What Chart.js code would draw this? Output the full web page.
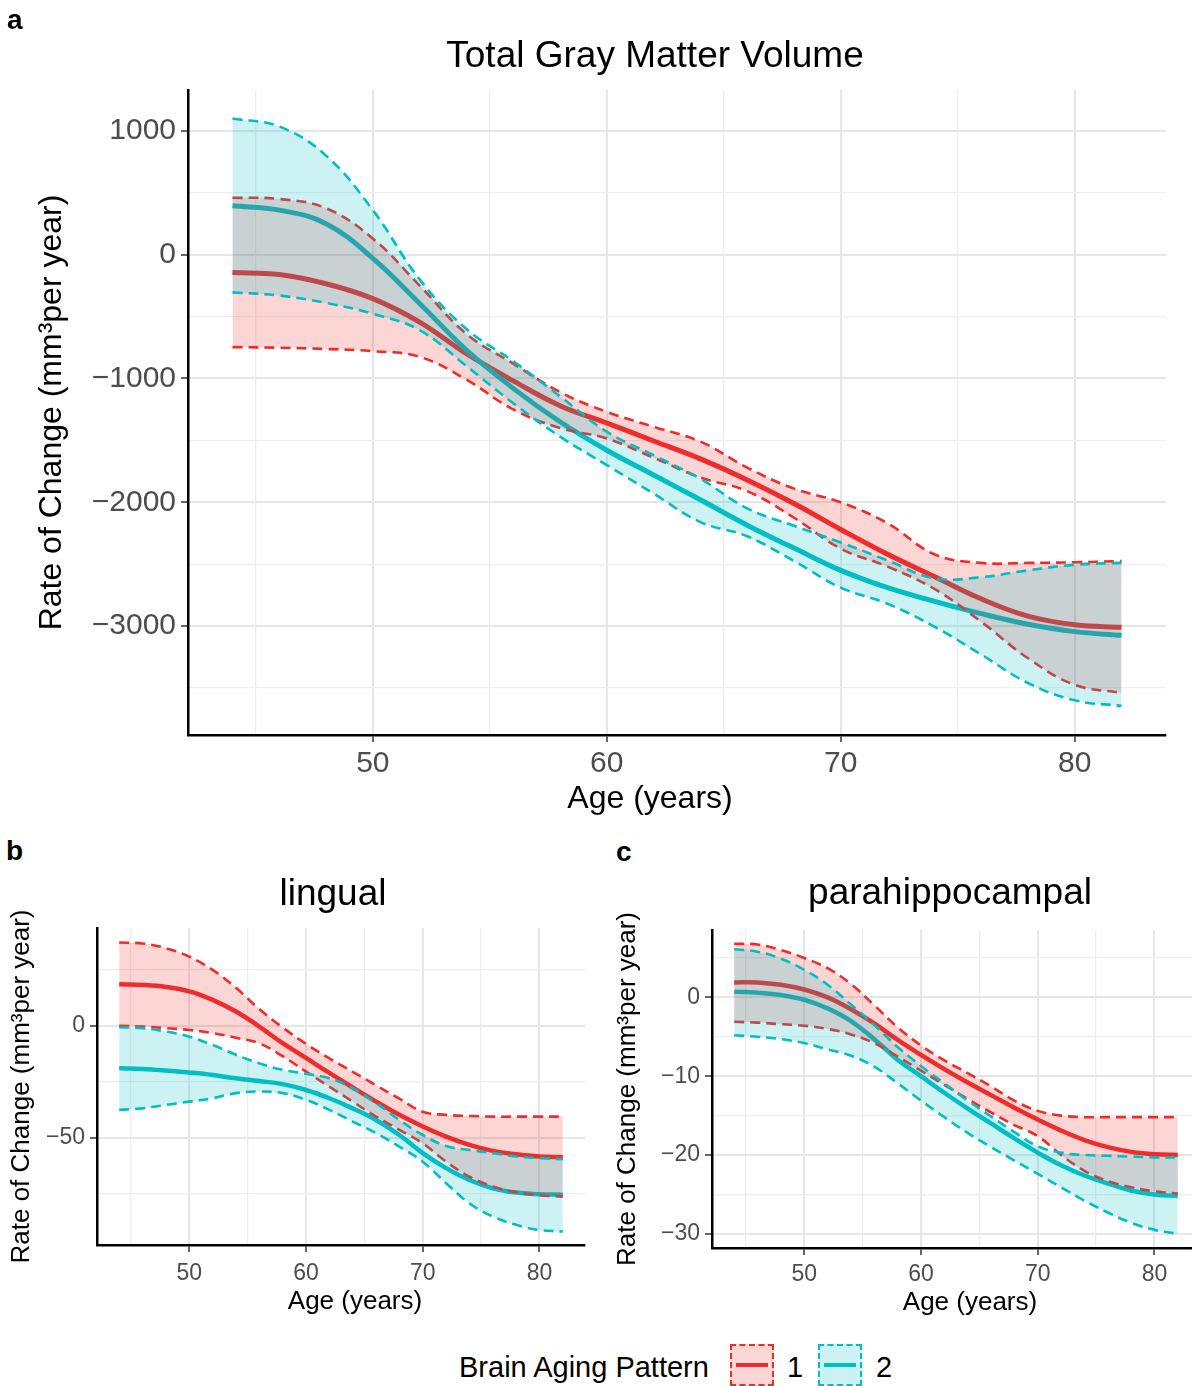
<!DOCTYPE html>
<html>
<head>
<meta charset="utf-8">
<script src="https://cdn.jsdelivr.net/npm/chart.js@4.4.1/dist/chart.umd.min.js"></script>
<style>
  body { margin: 0; background: #fff; overflow: hidden; }
  #page { position: relative; width: 1192px; height: 1386px; overflow: hidden; font-family: "Liberation Sans", Arial, sans-serif; color: #000; }
  canvas { position: absolute; }
  .tag { position: absolute; font-weight: bold; font-size: 28px; line-height: 28px; }
  .title { position: absolute; font-size: 37px; line-height: 37px; transform: translateX(-50%); white-space: nowrap; }
  .xt { position: absolute; transform: translateX(-50%); white-space: nowrap; }
  .leg { position: absolute; font-size: 29px; line-height: 29px; white-space: nowrap; }
  .key { position: absolute; width: 44px; height: 42px; box-sizing: border-box; }
  .key div { position: absolute; left: 4px; right: 4px; top: 17px; height: 4px; }
</style>
</head>
<body>
<div id="page">
  <canvas id="chartA" width="1192" height="820" style="left:0;top:0"></canvas>
  <canvas id="chartB" width="600" height="420" style="left:0;top:900px"></canvas>
  <canvas id="chartC" width="600" height="420" style="left:600px;top:900px"></canvas>

  <div class="tag" style="left:7px;top:6px">a</div>
  <div class="tag" style="left:6px;top:837px">b</div>
  <div class="tag" style="left:616px;top:838px">c</div>

  <div class="title" style="left:655px;top:36px">Total Gray Matter Volume</div>
  <div class="title" style="left:333px;top:874px">lingual</div>
  <div class="title" style="left:950px;top:873px">parahippocampal</div>

  <div class="xt" style="left:650px;top:781px;font-size:32px;line-height:32px">Age (years)</div>
  <div class="xt" style="left:355px;top:1287px;font-size:26px;line-height:26px">Age (years)</div>
  <div class="xt" style="left:970px;top:1288px;font-size:26px;line-height:26px">Age (years)</div>

  <div class="leg" style="left:459px;top:1353px">Brain Aging Pattern</div>
  <div class="key" style="left:730px;top:1344px;background:rgba(238,44,44,0.2);border:2px dashed #ee2c2c"><div style="background:#ee2c2c"></div></div>
  <div class="leg" style="left:787px;top:1353px">1</div>
  <div class="key" style="left:818px;top:1344px;background:rgba(0,191,196,0.2);border:2px dashed #00bfc4"><div style="background:#00bfc4"></div></div>
  <div class="leg" style="left:876px;top:1353px">2</div>
</div>

<script>
const ages = [44, 46, 48, 50, 52, 54, 56, 58, 60, 62, 64, 66, 68, 70, 72, 74, 76, 78, 80, 82];

// a - total gray matter volume, pattern 1 (red) and 2 (cyan)
const tgmMean1 = [-145, -160, -235, -355, -545, -800, -1020, -1220, -1360, -1505, -1650, -1820, -2010, -2220, -2420, -2600, -2780, -2920, -2990, -3010];
const tgmHigh1 = [460, 450, 375, 130, -250, -640, -880, -1110, -1270, -1390, -1510, -1720, -1890, -2000, -2170, -2420, -2490, -2490, -2485, -2475];
const tgmLow1 = [-747, -752, -762, -780, -825, -1010, -1250, -1400, -1485, -1640, -1800, -1910, -2125, -2375, -2520, -2700, -2965, -3260, -3475, -3540];
const tgmMean2 = [395, 360, 250, -30, -395, -770, -1080, -1350, -1580, -1780, -1980, -2185, -2370, -2550, -2690, -2800, -2900, -2985, -3045, -3075];
const tgmHigh2 = [1100, 1035, 800, 360, -200, -600, -860, -1145, -1430, -1620, -1810, -2050, -2190, -2325, -2470, -2615, -2605, -2550, -2505, -2490];
const tgmLow2 = [-305, -330, -390, -478, -610, -900, -1200, -1470, -1700, -1930, -2160, -2275, -2475, -2690, -2820, -3005, -3230, -3460, -3600, -3645];

// b - lingual
const linMean1 = [18.6, 18.3, 17.4, 15.4, 11.6, 6.4, -0.3, -7.7, -14.3, -21.0, -27.5, -33.8, -39.7, -44.9, -49.4, -53.1, -55.8, -57.3, -58.3, -58.6];
const linHigh1 = [37.2, 36.8, 34.7, 30.9, 25.0, 17.0, 7.5, -0.7, -8.0, -14.5, -20.5, -26.5, -32.5, -38.3, -39.7, -40.2, -40.5, -40.5, -40.5, -40.5];
const linLow1 = [0, -0.3, -1.0, -1.8, -3.2, -5.3, -7.8, -13.5, -20.4, -27.1, -33.8, -40.5, -46.4, -52.4, -60.6, -67.3, -71.7, -74.3, -75.6, -76.2];
const linMean2 = [-18.9, -19.2, -19.9, -20.8, -21.9, -23.4, -24.6, -26.0, -28.6, -32.3, -36.8, -42.0, -48.7, -56.8, -63.5, -68.8, -72.5, -74.4, -75.1, -75.4];
const linHigh2 = [-0.6, -1.0, -2.5, -4.8, -8.5, -12.9, -16.7, -19.6, -21.4, -23.4, -27.8, -34.5, -42.0, -48.7, -53.6, -55.4, -56.8, -58.3, -59.0, -59.5];
const linLow2 = [-37.5, -36.8, -35.3, -33.8, -32.3, -30.0, -29.3, -30.0, -33.0, -37.5, -42.7, -47.9, -53.9, -60.6, -70.2, -79.2, -85.1, -88.8, -91.1, -91.8];

// c - parahippocampal
const parMean1 = [1.9, 1.9, 1.6, 1.0, 0.0, -1.5, -3.3, -5.4, -7.3, -9.1, -10.8, -12.4, -14.0, -15.5, -16.9, -18.1, -19.0, -19.6, -19.9, -20.0];
const parHigh1 = [6.8, 6.7, 6.0, 5.0, 3.7, 1.7, -1.0, -3.8, -6.1, -8.0, -9.6, -11.3, -13.1, -14.4, -15.0, -15.2, -15.2, -15.2, -15.2, -15.2];
const parLow1 = [-3.1, -3.2, -3.4, -3.6, -4.0, -4.7, -5.8, -7.5, -9.3, -11.1, -12.9, -14.6, -16.2, -17.6, -20.0, -22.0, -23.3, -24.1, -24.6, -24.9];
const parMean2 = [0.7, 0.6, 0.3, -0.3, -1.4, -3.0, -5.3, -7.9, -10.0, -12.1, -14.1, -16.0, -17.9, -19.7, -21.3, -22.6, -23.6, -24.5, -25.0, -25.2];
const parHigh2 = [6.1, 5.8, 4.9, 3.5, 1.6, -0.9, -3.5, -6.3, -8.7, -10.9, -13.1, -15.1, -17.1, -18.9, -19.7, -20.0, -20.1, -20.2, -20.3, -20.3];
const parLow2 = [-4.8, -5.0, -5.3, -5.8, -6.6, -7.4, -8.8, -10.9, -13.1, -15.2, -17.2, -19.0, -20.7, -22.4, -24.1, -25.8, -27.3, -28.6, -29.5, -30.0];

// axis breaks
const ageGrid = [45, 50, 55, 60, 65, 70, 75, 80];
const ageLabels = [50, 60, 70, 80];
const tgmGrid = [-3500, -3000, -2500, -2000, -1500, -1000, -500, 0, 500, 1000];
const tgmLabels = [1000, 0, -1000, -2000, -3000];
const linGrid = [-75, -50, -25, 0, 25];
const linLabels = [0, -50];
const parGrid = [-30, -25, -20, -15, -10, -5, 0, 5];
const parLabels = [0, -10, -20, -30];

const red = '#ee2c2c';
const cyan = '#00bfc4';
const redFill = 'rgba(238,44,44,0.2)';
const cyanFill = 'rgba(0,191,196,0.2)';

Chart.defaults.font.family = '"Liberation Sans", Arial, sans-serif';

function pts(ys) {
    return ages.map((a, i) => ({ x: a, y: ys[i] }));
}

function minus(v) {
    return v < 0 ? '\u2212' + Math.abs(v) : String(v);
}

function makeChart(id, s) {
    const line = (ys, color, width, order) => ({
        data: pts(ys),
        borderColor: color,
        borderWidth: width,
        pointRadius: 0,
        tension: 0.4,
        fill: false,
        order: order
    });
    const dash = [10, 6];

    // means drawn first, then ribbon 1, then ribbon 2 on top (ggplot layering)
    const datasets = [
        line(s.mean1, red, s.lw, 10),
        line(s.mean2, cyan, s.lw, 9),
        Object.assign(line(s.low1, red, 2.6, 6), { borderDash: dash }),
        Object.assign(line(s.high1, red, 2.6, 5), { borderDash: dash, fill: 2, backgroundColor: redFill }),
        Object.assign(line(s.low2, cyan, 2.6, 3), { borderDash: dash }),
        Object.assign(line(s.high2, cyan, 2.6, 2), { borderDash: dash, fill: 4, backgroundColor: cyanFill })
    ];

    const isMajorX = ctx => ageLabels.includes(ctx.tick && ctx.tick.value);
    const isMajorY = ctx => s.yLabels.includes(ctx.tick && ctx.tick.value);

    return new Chart(document.getElementById(id), {
        type: 'line',
        data: { datasets: datasets },
        options: {
            responsive: false,
            animation: false,
            layout: { padding: { left: 0, right: s.pr, top: s.pt, bottom: 0 } },
            plugins: {
                legend: { display: false },
                tooltip: { enabled: false }
            },
            scales: {
                x: {
                    type: 'linear',
                    min: 42.1,
                    max: 83.9,
                    afterBuildTicks: ax => { ax.ticks = ageGrid.map(v => ({ value: v })); },
                    afterFit: ax => { ax.height = s.xh; },
                    ticks: {
                        autoSkip: false,
                        maxRotation: 0,
                        padding: s.xpad,
                        color: '#4d4d4d',
                        font: { size: s.tick },
                        callback: v => ageLabels.includes(v) ? String(v) : ''
                    },
                    grid: {
                        color: ctx => isMajorX(ctx) ? '#e6e6e6' : '#eeeeee',
                        lineWidth: ctx => isMajorX(ctx) ? 2 : 1.3,
                        tickLength: 7,
                        tickWidth: 1.5,
                        tickColor: ctx => isMajorX(ctx) ? '#333' : 'rgba(0,0,0,0)'
                    },
                    border: { display: true, color: '#000', width: 2.5 },
                    title: { display: false }
                },
                y: {
                    type: 'linear',
                    min: s.ymin,
                    max: s.ymax,
                    afterBuildTicks: ax => { ax.ticks = s.yGrid.map(v => ({ value: v })); },
                    afterFit: ax => { ax.width = s.yw; },
                    ticks: {
                        autoSkip: false,
                        padding: 5,
                        color: '#4d4d4d',
                        font: { size: s.tick },
                        callback: v => s.yLabels.includes(v) ? minus(v) : ''
                    },
                    grid: {
                        color: ctx => isMajorY(ctx) ? '#e6e6e6' : '#eeeeee',
                        lineWidth: ctx => isMajorY(ctx) ? 2 : 1.3,
                        tickLength: 7,
                        tickWidth: 1.5,
                        tickColor: ctx => isMajorY(ctx) ? '#333' : 'rgba(0,0,0,0)'
                    },
                    border: { display: true, color: '#000', width: 2.5 },
                    title: {
                        display: true,
                        text: 'Rate of Change (mm\u00b3per year)',
                        color: '#000',
                        font: { size: s.ttl },
                        padding: { top: s.ytp, bottom: 0 }
                    }
                }
            }
        }
    });
}

makeChart('chartA', {
    mean1: tgmMean1, high1: tgmHigh1, low1: tgmLow1,
    mean2: tgmMean2, high2: tgmHigh2, low2: tgmLow2,
    yGrid: tgmGrid, yLabels: tgmLabels, ymin: -3880, ymax: 1330,
    lw: 5, tick: 30, ttl: 32,
    pr: 26, pt: 90, yw: 188, xh: 85, xpad: 4, ytp: 33
});

makeChart('chartB', {
    mean1: linMean1, high1: linHigh1, low1: linLow1,
    mean2: linMean2, high2: linHigh2, low2: linLow2,
    yGrid: linGrid, yLabels: linLabels, ymin: -97.8, ymax: 43.7,
    lw: 4.5, tick: 23, ttl: 26,
    pr: 15, pt: 28, yw: 97, xh: 75, xpad: 8, ytp: 6
});

makeChart('chartC', {
    mean1: parMean1, high1: parHigh1, low1: parLow1,
    mean2: parMean2, high2: parHigh2, low2: parLow2,
    yGrid: parGrid, yLabels: parLabels, ymin: -31.8, ymax: 8.55,
    lw: 4.5, tick: 23, ttl: 26,
    pr: 0, pt: 30, yw: 112, xh: 72, xpad: 6, ytp: 12
});
</script>
</body>
</html>
